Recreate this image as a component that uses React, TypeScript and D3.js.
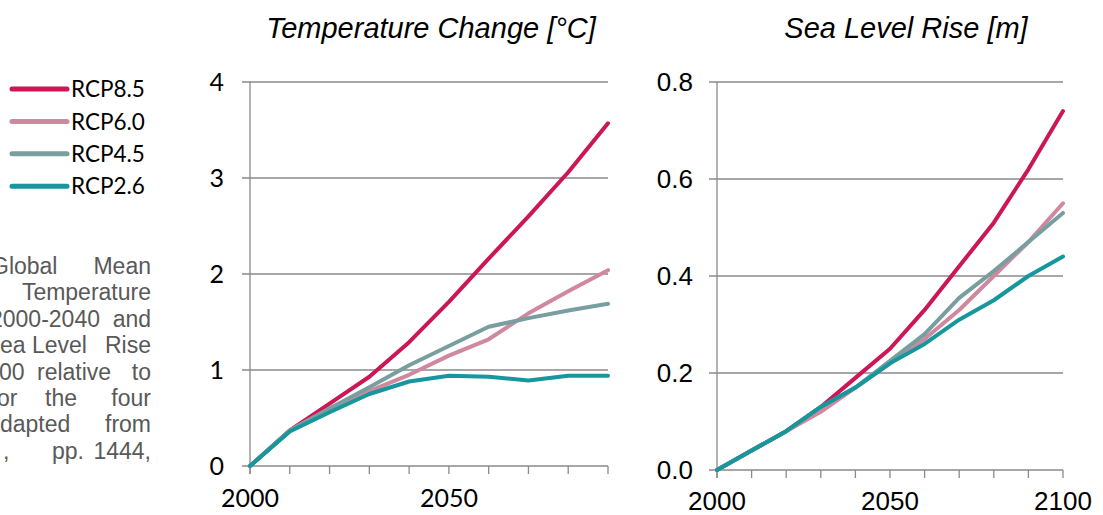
import React from 'react';
import * as d3 from 'd3';

const scenarios = ['RCP8.5', 'RCP6.0', 'RCP4.5', 'RCP2.6'];
const colors = ['#cc1655', '#d0889f', '#799e9f', '#16979d'];

const tempYears = [2000, 2010, 2020, 2030, 2040, 2050, 2060, 2070, 2080, 2090];
const temp85 = [0, 0.37, 0.65, 0.93, 1.29, 1.71, 2.16, 2.6, 3.06, 3.57];
const temp60 = [0, 0.37, 0.6, 0.78, 0.95, 1.15, 1.32, 1.59, 1.82, 2.04];
const temp45 = [0, 0.37, 0.6, 0.82, 1.05, 1.25, 1.45, 1.54, 1.62, 1.69];
const temp26 = [0, 0.36, 0.56, 0.75, 0.88, 0.94, 0.93, 0.89, 0.94, 0.94];

const seaYears = [2000, 2010, 2020, 2030, 2040, 2050, 2060, 2070, 2080, 2090, 2100];
const sea85 = [0, 0.04, 0.08, 0.13, 0.19, 0.25, 0.33, 0.42, 0.51, 0.62, 0.74];
const sea60 = [0, 0.04, 0.08, 0.12, 0.17, 0.22, 0.27, 0.33, 0.4, 0.47, 0.55];
const sea45 = [0, 0.04, 0.08, 0.13, 0.17, 0.225, 0.28, 0.355, 0.41, 0.47, 0.53];
const sea26 = [0, 0.04, 0.08, 0.13, 0.17, 0.22, 0.26, 0.31, 0.35, 0.4, 0.44];

const tempYTicks = [0, 1, 2, 3, 4];
const seaYTicks = [0, 0.2, 0.4, 0.6, 0.8];
const tempXLabels = [2000, 2050];
const seaXLabels = [2000, 2050, 2100];

// cropped caption on the left, justified lines (words with their left x)
const captionLines = [
  [['Global', -9], ['Mean', 94]],
  [['Temperature', 20]],
  [['2000-2040', -10], ['and', 112]],
  [['ea', 0], ['Level', 32], ['Rise', 97]],
  [['00', -1], ['relative', 37], ['to', 128]],
  [['or', -3], ['the', 45], ['four', 115]],
  [['dapted', 0], ['from', 103]],
  [[',', 3], ['pp.', 52], ['1444,', 104]],
];

const GRID = '#8a8a8a';

type PanelProps = {
  title: string;
  titleX: number;
  years: number[];
  series: number[][];
  xRange: [number, number];
  yRange: [number, number];
  yMax: number;
  yTicks: number[];
  yFormat: (v: number) => string;
  xLabels: number[];
  font: string;
  labelSize: number;
  yLabelX: number;
  xLabelY: number;
};

const Panel = (p: PanelProps) => {
  const x = d3.scaleLinear().domain([p.years[0], p.years[p.years.length - 1]]).range(p.xRange);
  const y = d3.scaleLinear().domain([0, p.yMax]).range(p.yRange);
  const line = d3.line<number>()
    .x((_, i) => x(p.years[i]))
    .y(d => y(d));
  const [x0, x1] = p.xRange;
  return (
    <g>
      <text x={p.titleX} y={38} textAnchor="middle" fontFamily="'Liberation Sans', Arial, sans-serif"
        fontStyle="italic" fontSize={29} fill="#000">{p.title}</text>
      {p.yTicks.map(t => (
        <g key={t}>
          <line x1={x0 - 8} x2={x1} y1={y(t)} y2={y(t)} stroke={GRID} strokeWidth={1.3} />
          <text x={p.yLabelX} y={y(t)} dy="0.35em" textAnchor="end" fontFamily={p.font}
            fontSize={p.labelSize} fill="#000">{p.yFormat(t)}</text>
        </g>
      ))}
      <line x1={x0} x2={x0} y1={y(p.yMax)} y2={y(0) + 8} stroke={GRID} strokeWidth={1.3} />
      {p.years.map(yr => (
        <line key={yr} x1={x(yr)} x2={x(yr)} y1={y(0)} y2={y(0) + 8} stroke={GRID} strokeWidth={1.3} />
      ))}
      {p.xLabels.map(yr => (
        <text key={yr} x={x(yr)} y={p.xLabelY} textAnchor="middle" fontFamily={p.font}
          fontSize={p.labelSize} fill="#000">{yr}</text>
      ))}
      {p.series.map((s, i) => (
        <path key={i} d={line(s) || ''} fill="none" stroke={colors[i]} strokeWidth={4}
          strokeLinejoin="round" strokeLinecap="round" />
      ))}
    </g>
  );
};

const App = () => {
  return (
    <svg width={1103} height={515} style={{ position: 'absolute', left: 0, top: 0, background: '#fff' }}>
      {captionLines.map((ln, i) => (
        <g key={i}>
          {ln.map(([w, wx], j) => {
            const last = j === ln.length - 1 && ln.length > 1;
            return (
              <text key={j} x={last || ln.length === 1 ? 151 : (wx as number)} y={274 + i * 26.4}
                textAnchor={last || ln.length === 1 ? 'end' : 'start'}
                fontFamily="'Liberation Sans', Arial, sans-serif" fontSize={23} fill="#595959">{w}</text>
            );
          })}
        </g>
      ))}

      {scenarios.map((s, i) => (
        <g key={s}>
          <line x1={12} x2={67} y1={89 + i * 32.4} y2={89 + i * 32.4} stroke={colors[i]}
            strokeWidth={5} strokeLinecap="round" />
          <text x={71} y={89 + i * 32.4} dy="0.36em" fontFamily="Lato, sans-serif" fontSize={22.5} fill="#000">{s}</text>
        </g>
      ))}

      <Panel title="Temperature Change [°C]" titleX={431} years={tempYears}
        series={[temp85, temp60, temp45, temp26]} xRange={[250, 608]} yRange={[466, 82]} yMax={4}
        yTicks={tempYTicks} yFormat={d3.format('d')} xLabels={tempXLabels}
        font="Lato, sans-serif" labelSize={25} yLabelX={224} xLabelY={507} />

      <Panel title="Sea Level Rise [m]" titleX={906} years={seaYears}
        series={[sea85, sea60, sea45, sea26]} xRange={[717, 1063]} yRange={[470, 82]} yMax={0.8}
        yTicks={seaYTicks} yFormat={d3.format('.1f')} xLabels={seaXLabels}
        font="'Liberation Sans', Arial, sans-serif" labelSize={26} yLabelX={693} xLabelY={510} />
    </svg>
  );
};

export default App;
